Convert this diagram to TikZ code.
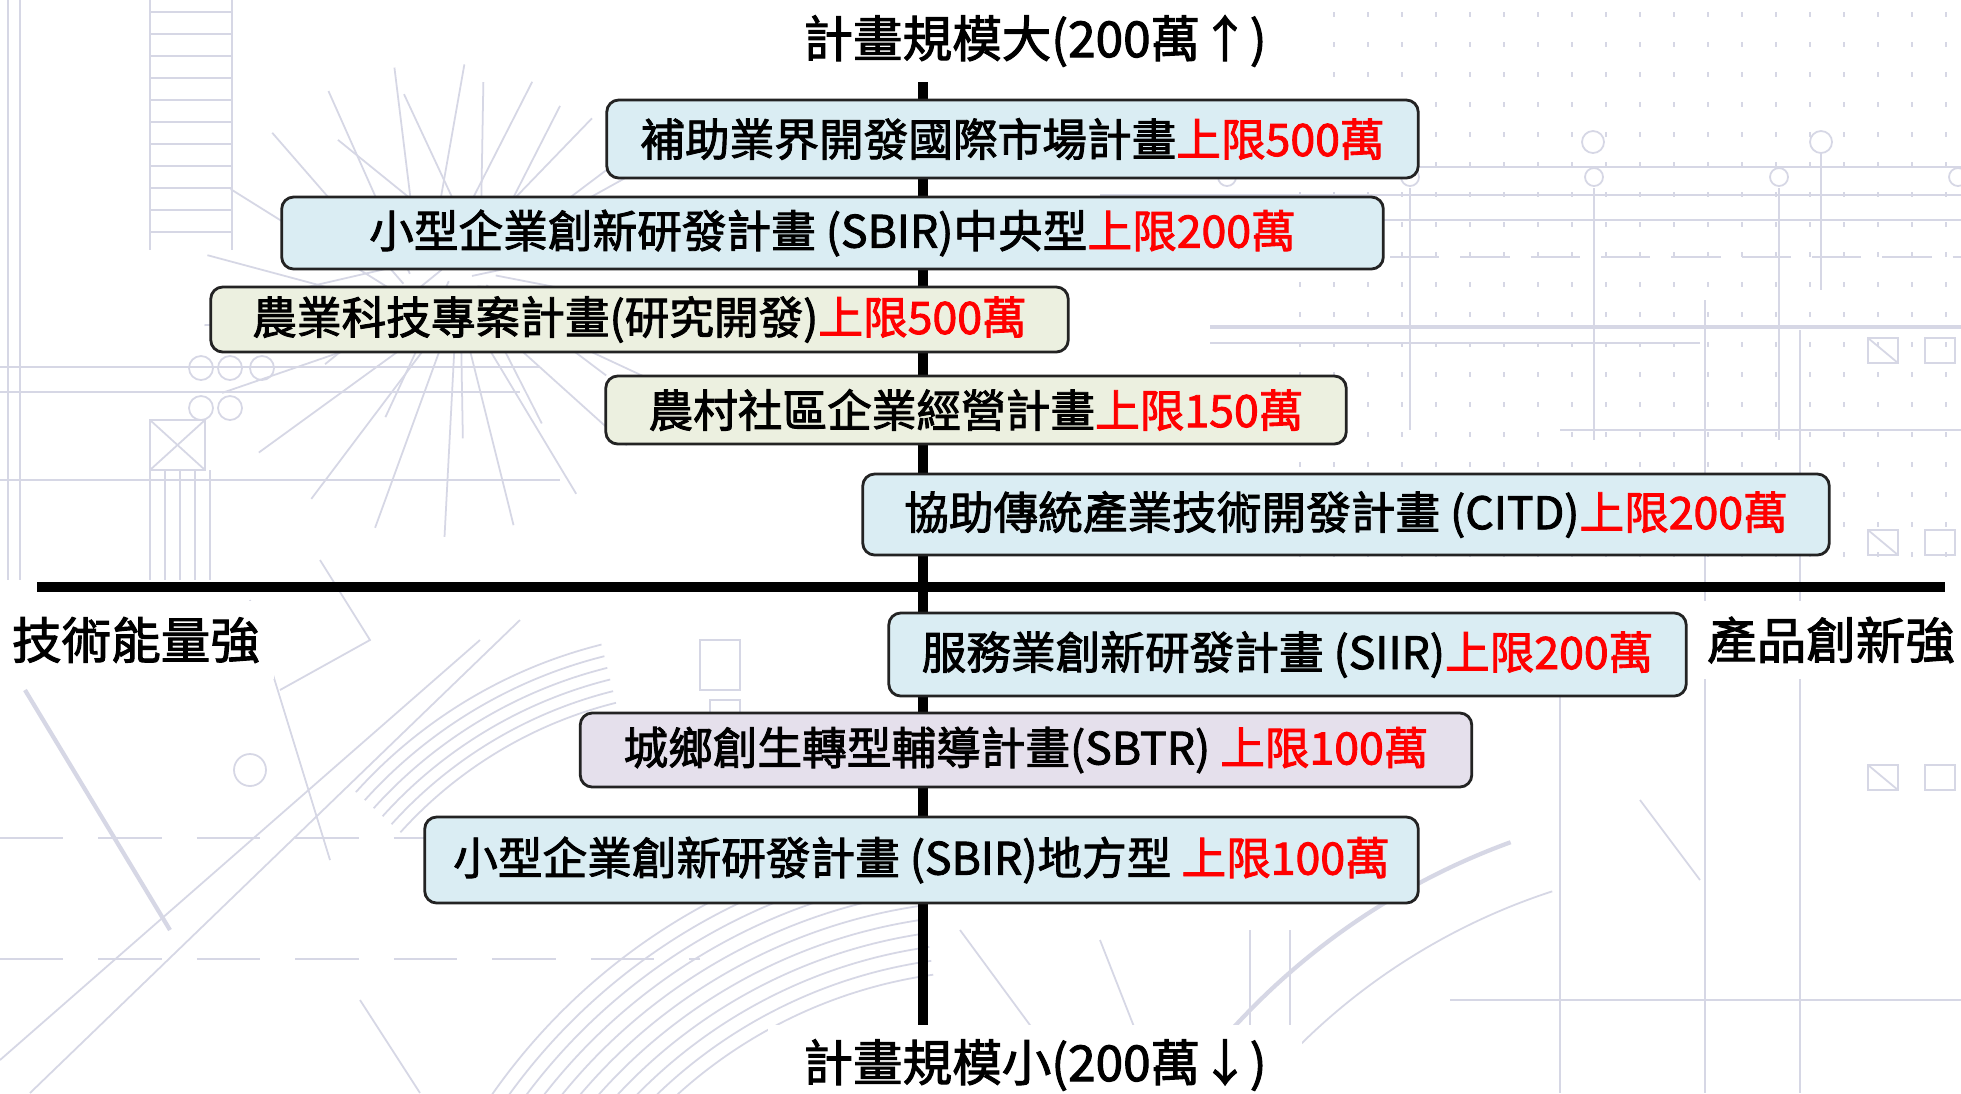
\documentclass[tikz,border=0pt]{standalone}
\usepackage{fontspec}
\setmainfont{Noto Sans CJK TC}[FakeBold=2]
\definecolor{boxblue}{RGB}{218,237,243}
\definecolor{boxbeige}{RGB}{236,240,224}
\definecolor{boxlav}{RGB}{229,224,236}
\definecolor{boxline}{RGB}{35,35,35}
\definecolor{bgcol}{RGB}{214,215,229}
\definecolor{capred}{RGB}{255,0,0}
\tikzset{
  plan/.style={draw=boxline, line width=0.8pt, rounded corners=0.12cm, inner sep=0pt,
    align=center, font=\fontsize{12.7}{15}\selectfont, text=black},
  bluebox/.style={plan, fill=boxblue},
  beigebox/.style={plan, fill=boxbeige},
  lavbox/.style={plan, fill=boxlav},
  axistitle/.style={font=\fontsize{14.1}{16}\selectfont, text=black, fill=white,
    inner xsep=0.35cm, inner ysep=0.14cm},
  sidelabel/.style={font=\fontsize{14.1}{16}\selectfont, text=black, fill=white,
    inner xsep=0.14cm, inner ysep=0.16cm},
  axisline/.style={line width=3pt, black},
  bg/.style={draw=bgcol, line width=0.5pt},
  bgthick/.style={draw=bgcol, line width=1.2pt},
}
\newcommand{\redcap}[1]{\textcolor{capred}{#1}}
\begin{document}
\begin{tikzpicture}[x=0.01cm,y=-0.01cm]
\useasboundingbox (0,0) rectangle (1961,1093);
\fill[white] (0,0) rectangle (1961,1093);

% ---------- faint blueprint background ----------
\begin{scope}[bg]
  % stair block top-left
  \draw (150,0) -- (150,250); \draw (232,0) -- (232,250);
  \foreach \yy in {12,34,...,240} \draw (150,\yy) -- (232,\yy);
  \draw (8,0) -- (8,580); \draw (20,0) -- (20,580);
  % spiral stair radiating lines
  \foreach \a in {0,17,...,350} \draw (440,300) ++(\a:40) -- ++(\a+25:200);
  \foreach \a in {5,31,...,350} \draw (470,260) ++(\a:30) -- ++(\a-20:150);
  % circles left
  \foreach \xx in {201,230,262} \draw (\xx,368) circle (12);
  \foreach \xx in {201,230} \draw (\xx,408) circle (12);
  \draw (0,367) -- (540,367); \draw (0,392) -- (520,392);
  \draw (150,420) rectangle (205,470); \draw (150,420) -- (205,470); \draw (205,420) -- (150,470);
  \draw (0,480) -- (560,480);
  \foreach \xx in {150,165,180,195,210} \draw (\xx,470) -- (\xx,580);
  % top-right grid of ticks
  \foreach \xx in {1300,1334,...,1960}
    \foreach \yy in {12,42,...,560}
      \draw (\xx,\yy) -- (\xx,\yy+5);
  \draw (1140,167) -- (1961,167);
  \draw (1100,195) -- (1961,195);
  \draw (1300,220) -- (1961,220);
  \draw[dashed, dash pattern=on 14pt off 6pt] (1390,257) -- (1961,257);
  \draw[bgthick] (1210,327) -- (1961,327);
  \draw (1210,343) -- (1700,343);
  \draw (1593,142) circle (11); \draw (1821,142) circle (11);
  \foreach \xx in {1227,1410,1594,1779,1958} \draw (\xx,177) circle (9);
  \draw (1594,188) -- (1594,440); \draw (1779,188) -- (1779,440);
  \draw (1821,153) -- (1821,290); \draw (1410,188) -- (1410,430);
  \draw (1705,300) -- (1705,1093); \draw (1800,330) -- (1800,1093);
  \draw (1560,430) -- (1961,430);
  \foreach \yy in {338,530,765} {
    \draw (1868,\yy) rectangle (1898,\yy+25); \draw (1868,\yy) -- (1898,\yy+25);
    \draw (1925,\yy) rectangle (1955,\yy+25);
  }
  \draw (1560,1093) -- (1560,620);
  % left dashed lines and diagonals
  \draw[dashed, dash pattern=on 18pt off 10pt] (0,838) -- (700,838);
  \draw[dashed, dash pattern=on 18pt off 10pt] (0,959) -- (700,959);
  \draw[bgthick] (25,690) -- (170,930);
  \draw (0,1060) -- (480,640);
  \draw (30,1093) -- (520,620);
  \draw (250,600) -- (330,860);
  \draw (280,690) -- (370,640) -- (320,560);
  \draw (250,770) circle (16);
  \draw (360,1000) -- (420,1093);
  \draw (700,640) rectangle (740,690);
  \draw (710,700) rectangle (740,760);
  % concentric arcs
  \foreach \r in {480,494,...,620}
    \draw (1000,1450) ++(215:\r) arc[start angle=215, end angle=262, radius=\r];
  \foreach \r in {430,442,...,500}
    \draw (720,1120) ++(222:\r) arc[start angle=222, end angle=256, radius=\r];
  \draw[bgthick] (1750,1500) ++(198:700) arc[start angle=198, end angle=250, radius=700];
  \draw (1750,1500) ++(200:640) arc[start angle=200, end angle=252, radius=640];
  \draw (1250,1093) -- (1250,930); \draw (1290,1093) -- (1290,930);
  \draw (1450,1000) -- (1961,1000);
  \draw (960,930) -- (1080,1093);
  \draw (1100,940) -- (1160,1093);
  \draw (1640,800) -- (1700,880);
\end{scope}

% ---------- axes ----------
\coordinate (vtop) at (923,82);
\coordinate (vbot) at (923,1027);
\coordinate (hleft) at (37,587);
\coordinate (hright) at (1945,587);
\draw[axisline] (vtop) -- (vbot);
\draw[axisline] (hleft) -- (hright);

% ---------- axis labels ----------
\node[axistitle] (ttop) at (1035,41) {計畫規模大(200萬↑)};
\node[axistitle] (tbot) at (1035,1065) {計畫規模小(200萬↓)};
\node[sidelabel] (tleft) at (136,640) {技術能量強};
\node[sidelabel] (tright) at (1831,640) {產品創新強};

% ---------- programme boxes ----------
\node[bluebox, minimum width=8.11cm, minimum height=0.78cm] (p1) at (1012.5,139)
  {補助業界開發國際市場計畫\redcap{上限500萬}};
\node[bluebox, minimum width=11.01cm, minimum height=0.72cm] (p2) at (832.5,233)
  {小型企業創新研發計畫 (SBIR)中央型\redcap{上限200萬}};
\node[beigebox, minimum width=8.57cm, minimum height=0.65cm] (p3) at (639.5,319.5)
  {農業科技專案計畫(研究開發)\redcap{上限500萬}};
\node[beigebox, minimum width=7.40cm, minimum height=0.68cm] (p4) at (976,410)
  {農村社區企業經營計畫\redcap{上限150萬}};
\node[bluebox, minimum width=9.66cm, minimum height=0.81cm] (p5) at (1346,514.5)
  {協助傳統產業技術開發計畫 (CITD)\redcap{上限200萬}};
\node[bluebox, minimum width=7.97cm, minimum height=0.83cm] (p6) at (1287.5,654.5)
  {服務業創新研發計畫 (SIIR)\redcap{上限200萬}};
\node[lavbox, minimum width=8.91cm, minimum height=0.74cm] (p7) at (1026,750)
  {城鄉創生轉型輔導計畫(SBTR) \redcap{上限100萬}};
\node[bluebox, minimum width=9.93cm, minimum height=0.86cm] (p8) at (921.5,860)
  {小型企業創新研發計畫 (SBIR)地方型 \redcap{上限100萬}};
\end{tikzpicture}
\end{document}
